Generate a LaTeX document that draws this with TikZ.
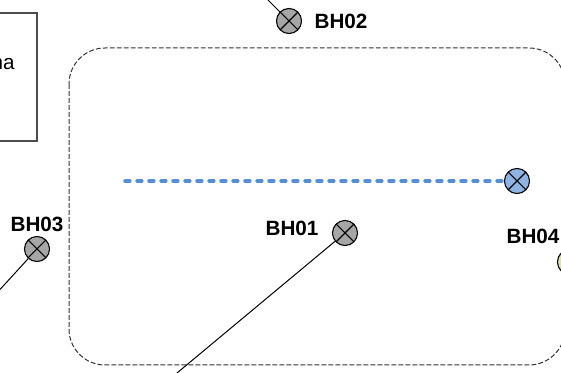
\documentclass[tikz,border=0pt]{standalone}
\usepackage{fontspec}
\usepackage{xcolor}
\setmainfont{Liberation Sans}
\definecolor{holegrey}{HTML}{A6A6A6}
\definecolor{holeblue}{HTML}{8DB4E2}
\definecolor{holegreen}{HTML}{D7E4BC}
\definecolor{sectionblue}{HTML}{558ED5}
\tikzset{
    bhole/.style={draw, circle, inner sep=0pt, minimum size=18.8pt, line width=0.8pt,
        path picture={\draw[line width=0.8pt] (path picture bounding box.north west) -- (path picture bounding box.south east)
            (path picture bounding box.north east) -- (path picture bounding box.south west);}},
    bhlabel/.style={font=\bfseries\fontsize{15.5}{18}\selectfont, inner sep=0pt},
    sitebox/.style={draw=black!70, line width=0.8pt},
    siteline/.style={draw=black!80, line width=0.75pt, dash pattern=on 3.6pt off 1.65pt}
}
\begin{document}
\begin{tikzpicture}[x=0.75pt, y=-0.75pt]
        \useasboundingbox (0,0) rectangle (561,373);
        \clip (0,0) rectangle (561,373);

        % site outline and text box
        \draw[sitebox] (-60,13) rectangle (37,141);
        \node[anchor=base east, inner sep=0pt, font=\fontsize{15.5}{18}\selectfont] (note) at (15,70) {na};
        \draw[siteline, rounded corners=27pt] (69,48) rectangle (565,365);

        % boreholes
        \node[bhole, fill=holegrey] (bh01) at (345,233) {};
        \node[bhole, fill=holegrey] (bh02) at (289,21) {};
        \node[bhole, fill=holegrey] (bh03) at (37,249) {};
        \node[bhole, fill=holeblue] (bh05) at (517,181) {};
        \node[bhole, fill=holegreen] (bh06) at (570,262) {};

        \node[bhlabel] (lab01) at (292,228) {BH01};
        \node[bhlabel] (lab02) at (341,21) {BH02};
        \node[bhlabel] (lab03) at (37,224) {BH03};
        \node[bhlabel] (lab04) at (533,236) {BH04};

        \coordinate (end01) at (171,378);
        \coordinate (end02) at (262,-6);
        \coordinate (end03) at (-5,295);
        \coordinate (start05) at (125,181);

        \draw[line width=0.75pt] (bh01) -- (end01);
        \draw[line width=0.75pt] (bh02) -- (end02);
        \draw[line width=0.75pt] (bh03) -- (end03);
        \draw[sectionblue, line width=2.6pt, line cap=round, dash pattern=on 3.6pt off 5.4pt] (start05) -- (bh05);
    \end{tikzpicture}
\end{document}
